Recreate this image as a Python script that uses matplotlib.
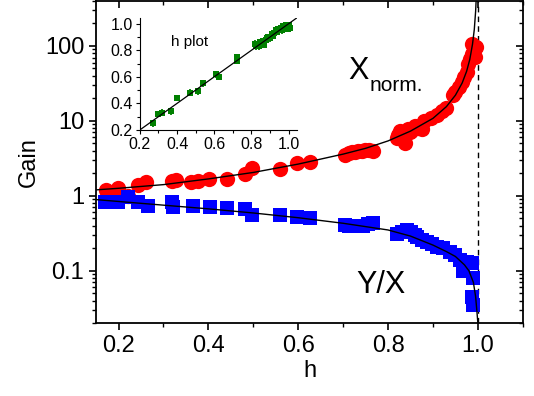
# gain of X and Y/X against h, with the h plot as an inset

import matplotlib
matplotlib.use('Agg')
import matplotlib.pyplot as plt
from matplotlib.ticker import FixedLocator, FixedFormatter, MultipleLocator, LogLocator, NullFormatter
import numpy as np

plt.rcParams['font.family'] = ['Liberation Sans', 'DejaVu Sans']

# measured X (normalised)
h_x = [0.172, 0.199, 0.196, 0.222, 0.244, 0.262, 0.318, 0.327, 0.362, 0.377, 0.402,
       0.441, 0.482, 0.496, 0.56, 0.598, 0.627,
       0.704, 0.712, 0.719, 0.727, 0.734, 0.742, 0.749, 0.758, 0.767,
       0.819, 0.823, 0.827, 0.833, 0.838, 0.845, 0.852, 0.86, 0.849, 0.866,
       0.875, 0.879, 0.895, 0.908, 0.92, 0.93,
       0.945, 0.949, 0.957, 0.964, 0.97, 0.975, 0.979, 0.983, 0.986, 0.988,
       0.993, 0.996]
x_norm = [1.2, 1.26, 1.09, 1.0, 1.4, 1.52, 1.59, 1.64, 1.55, 1.58, 1.68,
          1.68, 1.95, 2.34, 2.27, 2.73, 2.84,
          3.5, 3.7, 3.8, 3.9, 3.95, 4.0, 4.1, 4.1, 4.0,
          5.96, 6.5, 7.3, 6.2, 5.1, 7.7, 7.4, 8.5, 7.0, 8.0,
          7.7, 9.9, 11, 12.1, 13.5, 14.9,
          22, 24.6, 28, 33.3, 38, 45, 58, 66, 79, 107,
          71, 96]

# measured Y/X
h_yx = [0.17, 0.199, 0.222, 0.244, 0.266, 0.318, 0.322, 0.366, 0.403,
        0.441, 0.482, 0.497, 0.56, 0.598, 0.627,
        0.704, 0.713, 0.723, 0.734, 0.745, 0.756, 0.767,
        0.819, 0.83, 0.842, 0.85, 0.86,
        0.864, 0.875, 0.886, 0.897, 0.908, 0.922, 0.938, 0.95, 0.96,
        0.967, 0.975, 0.986, 0.99, 0.967, 0.986, 0.99]
y_over_x = [0.826, 0.83, 0.96, 0.83, 0.74, 0.83, 0.71, 0.74, 0.71,
            0.69, 0.66, 0.55, 0.55, 0.52, 0.50,
            0.41, 0.40, 0.40, 0.39, 0.40, 0.42, 0.44,
            0.31, 0.33, 0.35, 0.33, 0.30,
            0.28, 0.26, 0.24, 0.23, 0.21, 0.20, 0.18, 0.16, 0.14,
            0.098, 0.13, 0.127, 0.08, 0.12, 0.044, 0.035]

# model curves
h_fit_x = [0.15, 0.2, 0.3, 0.4, 0.5, 0.6, 0.7, 0.75, 0.8, 0.85, 0.9, 0.93, 0.95,
           0.965, 0.975, 0.982, 0.988, 0.992, 0.995, 0.997]
x_fit = [1.2, 1.26, 1.41, 1.68, 2.05, 2.65, 3.6, 4.3, 5.4, 7.3, 10.8, 15.5, 22,
         32, 46, 66, 105, 165, 290, 520]
h_fit_yx = [0.15, 0.2, 0.3, 0.4, 0.5, 0.6, 0.7, 0.8, 0.85, 0.9, 0.93, 0.95, 0.97,
            0.98, 0.99, 0.995, 0.998, 1.0]
yx_fit = [0.89, 0.84, 0.75, 0.67, 0.59, 0.51, 0.43, 0.35, 0.29, 0.22, 0.18, 0.155,
          0.12, 0.10, 0.07, 0.045, 0.028, 0.02]

# h plot
h_in = [0.27, 0.30, 0.32, 0.365, 0.40, 0.47, 0.51, 0.54, 0.61, 0.625, 0.72, 0.72,
        0.82, 0.825, 0.83, 0.84, 0.845, 0.85, 0.86, 0.865, 0.87, 0.88, 0.885, 0.89,
        0.90, 0.91, 0.915, 0.92, 0.93, 0.94, 0.945, 0.95, 0.96, 0.965, 0.97, 0.98,
        0.985, 0.99, 1.00, 1.01, 0.97, 0.995]
h_out = [0.25, 0.32, 0.33, 0.34, 0.44, 0.48, 0.49, 0.55, 0.62, 0.60, 0.72, 0.75,
         0.85, 0.83, 0.84, 0.83, 0.86, 0.85, 0.87, 0.85, 0.84, 0.88, 0.89, 0.90,
         0.89, 0.92, 0.91, 0.93, 0.95, 0.94, 0.96, 0.96, 0.97, 0.95, 0.98, 0.97,
         0.99, 0.98, 0.99, 0.97, 0.96, 0.96]
h_err = 0.025
ident = [0.2, 1.05]

fig = plt.figure(figsize=(5.34, 3.96), dpi=100)
ax = fig.add_axes([0.18, 0.184, 0.799, 0.814])

ax.plot(h_x, x_norm, 'o', color='#ff0000', markersize=11, markeredgewidth=0, zorder=2)
ax.plot(h_yx, y_over_x, 's', color='#0000ff', markersize=9.5, markeredgewidth=0, zorder=2)
ax.plot(h_fit_x, x_fit, 'k-', lw=1, zorder=3)
ax.plot(h_fit_yx, yx_fit, 'k-', lw=1, zorder=3)
ax.axvline(1.0, color='k', ls=(0, (4, 3)), lw=1, zorder=1)

ax.set_yscale('log')
ax.set_xlim(0.15, 1.1)
ax.set_ylim(0.02, 400)
ax.xaxis.set_major_locator(MultipleLocator(0.2))
ax.xaxis.set_minor_locator(MultipleLocator(0.1))
ax.set_xticks([0.2, 0.4, 0.6, 0.8, 1.0])
ax.set_xticklabels(['0.2', '0.4', '0.6', '0.8', '1.0'])
ax.yaxis.set_major_locator(FixedLocator([0.1, 1, 10, 100]))
ax.yaxis.set_major_formatter(FixedFormatter(['0.1', '1', '10', '100']))
ax.yaxis.set_minor_locator(LogLocator(base=10, subs=np.arange(2, 10)))
ax.yaxis.set_minor_formatter(NullFormatter())

ax.tick_params(axis='both', which='major', labelsize=17, width=1.2, length=5)
ax.tick_params(axis='both', which='minor', width=1.0, length=3)
ax.tick_params(axis='x', which='both', direction='out', top=True)
ax.tick_params(axis='y', which='both', direction='out', right=True)
# ticks on the mirrored sides point inwards
for t in ax.xaxis.get_major_ticks() + ax.xaxis.get_minor_ticks():
    t.tick2line.set_marker(3)
for t in ax.yaxis.get_major_ticks() + ax.yaxis.get_minor_ticks():
    t.tick2line.set_marker(0)
for s in ax.spines.values():
    s.set_linewidth(1.3)

ax.set_xlabel('h', fontsize=17, labelpad=2)
ax.set_ylabel('Gain', fontsize=17, labelpad=4)

ax.text(0.59, 0.758, 'X', transform=ax.transAxes, fontsize=22)
ax.text(0.64, 0.72, 'norm.', transform=ax.transAxes, fontsize=15)
ax.text(0.61, 0.093, 'Y/X', transform=ax.transAxes, fontsize=22)

# inset: h plot
axi = fig.add_axes([0.262, 0.672, 0.294, 0.283])
axi.errorbar(h_in, h_out, yerr=h_err, fmt='s', color='#008000', markersize=4.5,
             markeredgewidth=0, elinewidth=1.3, capsize=1.5, zorder=2)
axi.plot(ident, ident, 'k-', lw=0.9, zorder=3)
axi.set_xlim(0.2, 1.045)
axi.set_ylim(0.2, 1.045)
axi.xaxis.set_major_locator(MultipleLocator(0.2))
axi.xaxis.set_minor_locator(MultipleLocator(0.1))
axi.yaxis.set_major_locator(MultipleLocator(0.2))
axi.yaxis.set_minor_locator(MultipleLocator(0.1))
axi.set_xticks([0.2, 0.4, 0.6, 0.8, 1.0])
axi.set_xticklabels(['0.2', '0.4', '0.6', '0.8', '1.0'])
axi.set_yticks([0.2, 0.4, 0.6, 0.8, 1.0])
axi.set_yticklabels(['0.2', '0.4', '0.6', '0.8', '1.0'])
axi.tick_params(axis='both', which='major', labelsize=11.5, length=3, width=0.8, pad=2)
axi.tick_params(axis='both', which='minor', length=2, width=0.8)
axi.spines['top'].set_visible(False)
axi.spines['right'].set_visible(False)
axi.patch.set_alpha(0)
axi.text(0.2, 0.75, 'h plot', transform=axi.transAxes, fontsize=11)

plt.savefig('out.png', dpi=100)
